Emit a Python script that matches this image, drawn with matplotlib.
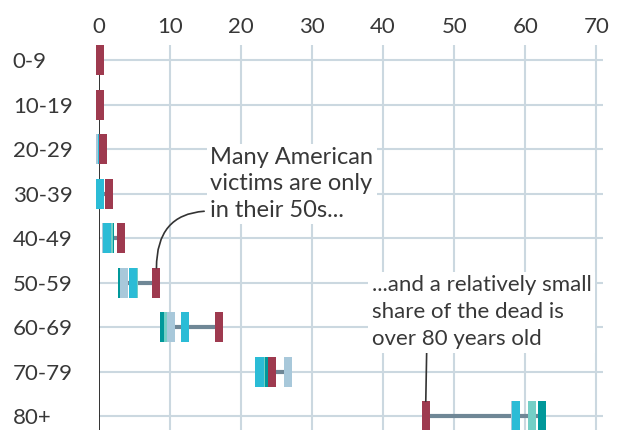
import numpy as np
import matplotlib.pyplot as plt

# share of deaths by age group, %
ages = ['0-9', '10-19', '20-29', '30-39', '40-49', '50-59', '60-69', '70-79', '80+']
us = [0.2, 0.2, 0.6, 1.4, 3.1, 8.1, 16.9, 24.3, 46.0]
cyan_s = [0.1, 0.1, 0.4, 0.2, 1.2, 4.8, 12.1, 22.6, 58.7]
lteal_s = [0.1, 0.1, 0.1, 0.1, 1.4, 4.9, 9.7, 22.8, 60.9]
lblue_s = [0.1, 0.1, 0.1, 0.2, 1.0, 3.6, 10.2, 26.6, 58.6]
dteal_s = [0.1, 0.1, 0.1, 0.1, 1.6, 3.3, 9.2, 23.8, 62.4]
xticks = [0, 10, 20, 30, 40, 50, 60, 70]

plt.rcParams['font.family'] = ['Lato', 'DejaVu Sans']

fig = plt.figure(figsize=(6.22, 4.30), dpi=100)
ax = fig.add_axes([0.159, 0.0, 0.810, 0.895])

y = np.arange(len(ages))
grid_c = '#cbd8e0'
txt_c = '#383838'

# grid
for xv in xticks[1:]:
    ax.axvline(xv, color=grid_c, lw=1.5, zorder=0)
for yv in y:
    ax.axhline(yv, color=grid_c, lw=1.5, zorder=0)
ax.axvline(0, color='#222222', lw=1.3, zorder=1)

# range line
allv = np.array([us, cyan_s, lteal_s, lblue_s, dteal_s])
ax.hlines(y, allv.min(axis=0), allv.max(axis=0), color='#6f8796', lw=3, zorder=2)

# markers
w = 1.13
h = 0.67
series = [(dteal_s, '#00989a'), (lteal_s, '#74cfc6'), (lblue_s, '#a8c8da'),
          (cyan_s, '#2bbcd6'), (us, '#9e3a4f')]
for vals, col in series:
    ax.barh(y, w, left=np.array(vals) - w / 2, height=h, color=col,
            zorder=3, clip_on=False)

ax.set_xlim(0, 70.9)
ax.set_ylim(8.31, -0.34)
ax.xaxis.tick_top()
ax.set_xticks(xticks)
ax.set_xticklabels([str(t) for t in xticks])
ax.set_yticks(y)
ax.set_yticklabels(ages, ha='left')
ax.tick_params(axis='x', length=0, pad=6, labelsize=16, labelcolor=txt_c)
ax.tick_params(axis='y', length=0, pad=62, labelsize=16, labelcolor=txt_c)
for s in ax.spines.values():
    s.set_visible(False)

# annotations
ax.annotate('Many American\nvictims are only\nin their 50s...',
            xy=(us[5], 5 - h / 2), xytext=(15.7, 2.78),
            ha='left', va='center', fontsize=17, color=txt_c,
            linespacing=1.3,
            bbox=dict(boxstyle='square,pad=0.15', fc='white', ec='none'),
            arrowprops=dict(arrowstyle='-', color='#333333', lw=1.2,
                            connectionstyle='angle3,angleA=0,angleB=90',
                            shrinkA=2, shrinkB=0,
                            relpos=(0, 0.13)),
            zorder=4)
ax.annotate('...and a relatively small\nshare of the dead is\nover 80 years old',
            xy=(us[8], 8 - h / 2), xytext=(38.4, 5.66),
            ha='left', va='center', fontsize=16, color=txt_c,
            linespacing=1.45,
            bbox=dict(boxstyle='square,pad=0.15', fc='white', ec='none'),
            arrowprops=dict(arrowstyle='-', color='#333333', lw=1.2,
                            shrinkA=0, shrinkB=0, relpos=(0.25, 0)),
            zorder=4)

fig.savefig('out.png', dpi=100)
